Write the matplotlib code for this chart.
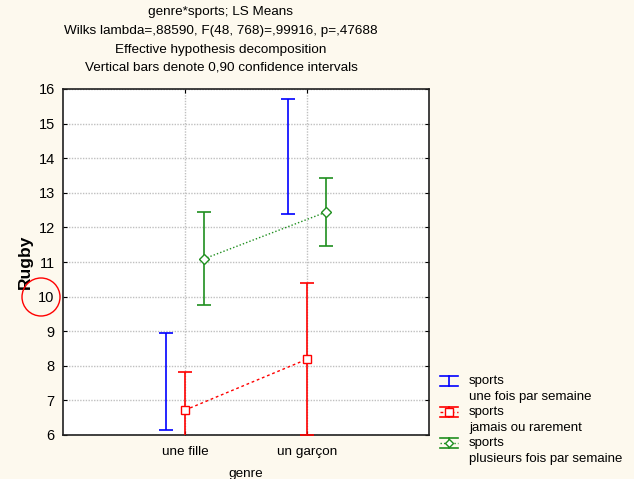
import numpy as np
import matplotlib.pyplot as plt
from matplotlib.patches import Ellipse
from matplotlib.lines import Line2D

plt.rcParams['font.family'] = ['Liberation Sans', 'DejaVu Sans']

# ----------------------------------------------------------------------
# Data (LS means with 0.90 confidence limits)
# ----------------------------------------------------------------------
genres = ["une fille", "un garçon"]

blue_mean = [7.55, 14.04]      # sports: une fois par semaine
blue_low = [6.15, 12.38]
blue_high = [8.95, 15.70]

red_mean = [6.72, 8.19]        # sports: jamais ou rarement
red_low = [5.62, 6.00]
red_high = [7.82, 10.38]

green_mean = [11.09, 12.44]    # sports: plusieurs fois par semaine
green_low = [9.75, 11.45]
green_high = [12.45, 13.43]

legend_labels = ["une fois par semaine",
                 "jamais ou rarement",
                 "plusieurs fois par semaine"]

BLUE, RED, GREEN = "#0000ff", "#ff0000", "#1f8f1f"
bg = "#fdf9ee"
W, H = 634, 479

fig = plt.figure(figsize=(W / 100, H / 100), dpi=100, facecolor=bg)
ax = fig.add_axes([63 / W, 1 - 435 / H, (429 - 63) / W, (435 - 89) / H])
ax.set_facecolor("white")

x = np.arange(1, len(genres) + 1)
off = 0.155


def bars(xpos, mean, low, high, color):
    mean = np.array(mean)
    err = [mean - np.array(low), np.array(high) - mean]
    ax.errorbar(xpos, mean, yerr=err, fmt="none", ecolor=color,
                elinewidth=1.2, capsize=4.8, capthick=1.2, zorder=3)


bars(x - off, blue_mean, blue_low, blue_high, BLUE)
bars(x, red_mean, red_low, red_high, RED)
bars(x + off, green_mean, green_low, green_high, GREEN)

ax.plot(x, red_mean, ls=(0, (2, 2)), color=RED, lw=1,
        marker="s", ms=6, mfc="white", mec=RED, mew=1, zorder=4)
ax.plot(x + off, green_mean, ls=(0, (1, 1.5)), color=GREEN, lw=1,
        marker="D", ms=5, mfc="white", mec=GREEN, mew=1, zorder=4)

ax.set_xlim(0, 3)
ax.set_ylim(6, 16)
ax.set_xticks(x)
ax.set_xticklabels(genres, fontsize=9.7)
ax.set_yticks(np.arange(6, 17, 1))
ax.tick_params(axis="y", labelsize=10.5, direction="in", length=3,
               right=True, pad=6)
ax.tick_params(axis="x", direction="in", length=3, top=True, pad=8)
ax.grid(True, color="#c0c0c0", ls=(0, (1, 1)), lw=1)
ax.set_axisbelow(True)
for s in ax.spines.values():
    s.set_linewidth(1.2)
    s.set_color("#202020")

ax.set_ylabel("Rugby", fontsize=12.5, fontweight="bold", labelpad=4)
fig.text(246 / W, 1 - 474 / H, "genre", ha="center", va="center",
         fontsize=9.7)

titles = ["genre*sports; LS Means",
          "Wilks lambda=,88590, F(48, 768)=,99916, p=,47688",
          "Effective hypothesis decomposition",
          "Vertical bars denote 0,90 confidence intervals"]
for i, t in enumerate(titles):
    fig.text(221 / W, 1 - (12.5 + i * 18.5) / H, t, ha="center",
             va="center", fontsize=9.7)

# red circle around the "10" tick label
fig.patches.append(Ellipse((41 / W, 1 - 297 / H), 38 / W, 38 / H,
                           transform=fig.transFigure, fill=False,
                           ec=RED, lw=1))

# legend drawn by hand: handle on the first line, two text lines per entry
def fx(px):
    return px / W


def fy(py):
    return 1 - py / H


entries = [(BLUE, None, None, "-"), (RED, "s", 5.5, (0, (2, 2))),
           (GREEN, "D", 4.5, (0, (1, 1.5)))]
for i, (color, mk, ms, ls) in enumerate(entries):
    yc = 381 + i * 31
    for yy in (yc - 5, yc + 5):
        fig.add_artist(Line2D([fx(440), fx(458)], [fy(yy), fy(yy)],
                              color=color, lw=1.2))
    fig.add_artist(Line2D([fx(449), fx(449)], [fy(yc - 5), fy(yc + 5)],
                          color=color, lw=1.2))
    if mk:
        fig.add_artist(Line2D([fx(440), fx(458)], [fy(yc), fy(yc)],
                              color=color, lw=1, ls=ls))
        fig.add_artist(Line2D([fx(449)], [fy(yc)], color=color, marker=mk,
                              ms=ms, mfc="white", mec=color, mew=1))
    fig.text(fx(469), fy(yc), "sports", ha="left", va="center",
             fontsize=9.5)
    fig.text(fx(469), fy(yc + 16), legend_labels[i], ha="left",
             va="center", fontsize=9.5)

fig.savefig("out.png", dpi=100, facecolor=bg)
